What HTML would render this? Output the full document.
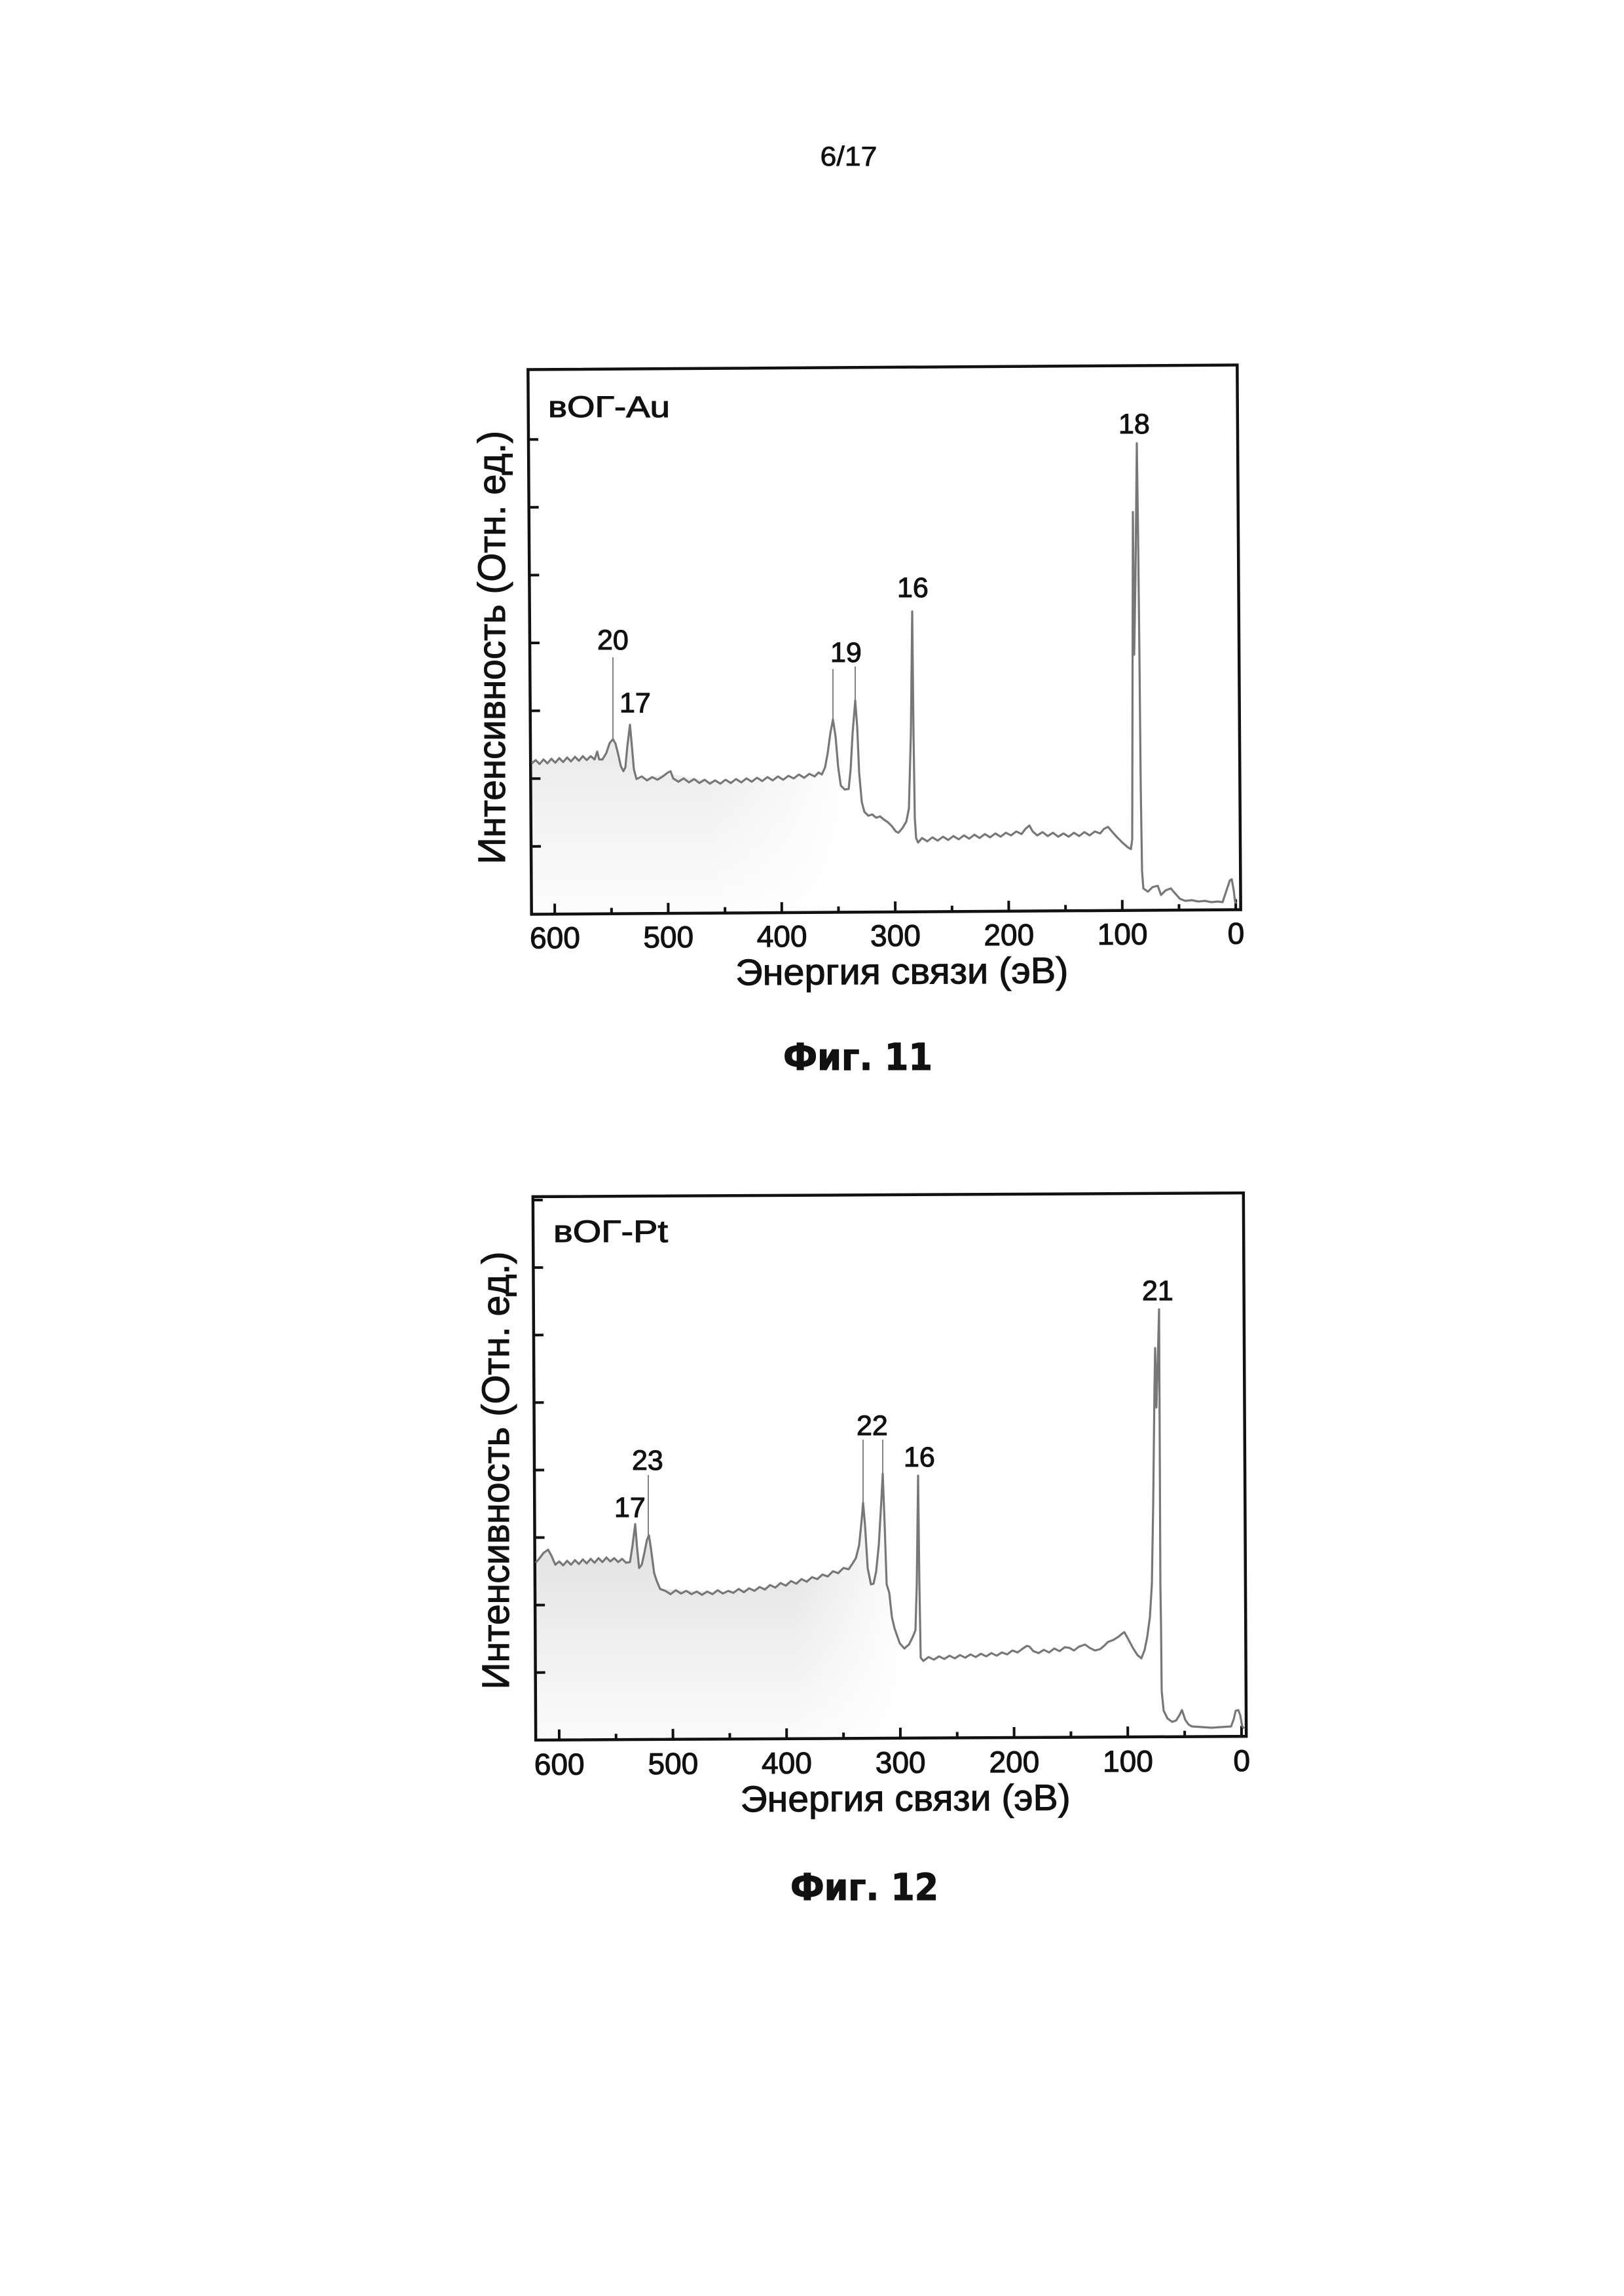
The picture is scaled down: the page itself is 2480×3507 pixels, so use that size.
<!DOCTYPE html>
<html>
<head>
<meta charset="utf-8">
<style>
html,body{margin:0;padding:0;background:#fff;}
body{width:2480px;height:3507px;overflow:hidden;}
svg{display:block;}
.t{font-family:"Liberation Sans","DejaVu Sans",sans-serif;fill:#111;stroke:#111;stroke-width:1.1;}
.b{font-family:"DejaVu Sans","Liberation Sans",sans-serif;font-weight:bold;fill:#111;stroke:#111;stroke-width:1.2;}
</style>
</head>
<body>
<svg width="2480" height="3507" viewBox="0 0 2480 3507" xmlns="http://www.w3.org/2000/svg">
<defs>
<linearGradient id="g1" gradientUnits="userSpaceOnUse" x1="0" y1="1160" x2="0" y2="1400">
<stop offset="0" stop-color="#ececec"/><stop offset="0.5" stop-color="#f5f5f5"/><stop offset="1" stop-color="#fdfdfd"/>
</linearGradient>
<linearGradient id="g2" gradientUnits="userSpaceOnUse" x1="0" y1="2380" x2="0" y2="2655">
<stop offset="0" stop-color="#e4e4e4"/><stop offset="0.4" stop-color="#eeeeee"/><stop offset="1" stop-color="#fbfbfb"/>
</linearGradient>
<linearGradient id="h1" gradientUnits="userSpaceOnUse" x1="812" y1="0" x2="1300" y2="0">
<stop offset="0" stop-color="#fff"/><stop offset="0.55" stop-color="#fff"/><stop offset="1" stop-color="#000"/>
</linearGradient>
<linearGradient id="h2" gradientUnits="userSpaceOnUse" x1="818" y1="0" x2="1385" y2="0">
<stop offset="0" stop-color="#fff"/><stop offset="0.7" stop-color="#fff"/><stop offset="1" stop-color="#000"/>
</linearGradient>
<mask id="m1" maskUnits="userSpaceOnUse" x="0" y="0" width="2480" height="3507">
<rect x="0" y="0" width="2480" height="3507" fill="url(#h1)"/>
</mask>
<mask id="m2" maskUnits="userSpaceOnUse" x="0" y="0" width="2480" height="3507">
<rect x="0" y="0" width="2480" height="3507" fill="url(#h2)"/>
</mask>
</defs>

<!-- header -->
<text class="t" x="1296" y="253" font-size="42" text-anchor="middle" textLength="87" lengthAdjust="spacingAndGlyphs" style="stroke-width:0.8">6/17</text>

<!-- ================= CHART 1 ================= -->
<polygon fill="url(#g1)" mask="url(#m1)" points="812,1166 818,1161 824,1167 830,1160 836,1166 842,1159 848,1165 854,1158 860,1164 866,1157 872,1163 878,1156 884,1162 890,1155 896,1161 902,1155 908,1160 912,1148 915,1160 920,1160 926,1150 931,1135 936,1129 940,1136 944,1152 948,1170 952,1178 955,1172 958,1140 962,1107 965,1140 968,1175 972,1190 1020,1182 1100,1195 1180,1192 1250,1182 1264,1150 1272,1099 1280,1172 1290,1206 1300,1395 812,1396"/>

<g transform="rotate(-0.37 1350 977)">
<rect x="809" y="561" width="1083" height="832" fill="none" stroke="#111" stroke-width="4.5"/>
<g stroke="#111" stroke-width="4">
<line x1="809" y1="1289.4" x2="824" y2="1289.4"/>
<line x1="809" y1="1185.8" x2="824" y2="1185.8"/>
<line x1="809" y1="1082.2" x2="824" y2="1082.2"/>
<line x1="809" y1="978.6" x2="824" y2="978.6"/>
<line x1="809" y1="875" x2="824" y2="875"/>
<line x1="809" y1="771.4" x2="824" y2="771.4"/>
<line x1="809" y1="667.8" x2="824" y2="667.8"/>
<line x1="844.5" y1="1393" x2="844.5" y2="1377"/>
<line x1="1017.8" y1="1393" x2="1017.8" y2="1377"/>
<line x1="1191.2" y1="1393" x2="1191.2" y2="1377"/>
<line x1="1364.5" y1="1393" x2="1364.5" y2="1377"/>
<line x1="1537.8" y1="1393" x2="1537.8" y2="1377"/>
<line x1="1711.2" y1="1393" x2="1711.2" y2="1377"/>
<line x1="1884.5" y1="1393" x2="1884.5" y2="1377"/>
<line x1="931.2" y1="1393" x2="931.2" y2="1384"/>
<line x1="1104.5" y1="1393" x2="1104.5" y2="1384"/>
<line x1="1277.8" y1="1393" x2="1277.8" y2="1384"/>
<line x1="1451.2" y1="1393" x2="1451.2" y2="1384"/>
<line x1="1624.5" y1="1393" x2="1624.5" y2="1384"/>
<line x1="1797.8" y1="1393" x2="1797.8" y2="1384"/>
</g>
<g class="t" font-size="46" text-anchor="middle">
<text x="844.5" y="1445">600</text>
<text x="1017.8" y="1445">500</text>
<text x="1191.2" y="1445">400</text>
<text x="1364.5" y="1445">300</text>
<text x="1537.8" y="1445">200</text>
<text x="1711.2" y="1445">100</text>
<text x="1884.5" y="1445">0</text>
</g>
<text class="t" x="1374" y="1503" font-size="56" text-anchor="middle" textLength="508" lengthAdjust="spacingAndGlyphs">Энергия связи (эВ)</text>
</g>

<text class="t" transform="translate(771 989) rotate(-90)" x="0" y="0" font-size="58" text-anchor="middle" textLength="662" lengthAdjust="spacingAndGlyphs">Интенсивность (Отн. ед.)</text>

<text class="t" x="837" y="637" font-size="45" textLength="186" lengthAdjust="spacingAndGlyphs">вОГ-Au</text>

<g stroke="#777" stroke-width="1.8" fill="none">
<line x1="936" y1="1004" x2="936" y2="1129"/>
<line x1="1272" y1="1022" x2="1272" y2="1099"/>
<line x1="1306" y1="1018" x2="1306" y2="1070"/>
</g>

<polyline fill="none" stroke="#777" stroke-width="3.2" stroke-linejoin="round" points="812,1166 818,1161 824,1167 830,1160 836,1166 842,1159 848,1165 854,1158 860,1164 866,1157 872,1163 878,1156 884,1162 890,1155 896,1161 902,1155 908,1160 912,1148 915,1160 920,1160 926,1150 931,1135 936,1129 940,1136 944,1152 948,1170 952,1178 955,1172 958,1140 962,1107 965,1140 968,1175 972,1190 980,1186 988,1192 996,1187 1004,1191 1012,1186 1020,1180 1024,1178 1028,1189 1036,1194 1044,1189 1052,1195 1060,1190 1068,1196 1076,1191 1084,1197 1092,1192 1100,1197 1108,1191 1116,1196 1124,1190 1132,1195 1140,1189 1148,1194 1156,1188 1164,1193 1172,1187 1180,1192 1188,1186 1196,1191 1204,1185 1212,1189 1220,1183 1228,1188 1236,1182 1244,1186 1250,1180 1255,1183 1260,1172 1264,1150 1268,1120 1272,1099 1276,1125 1280,1172 1284,1200 1290,1206 1296,1205 1299,1175 1302,1120 1306,1070 1309,1110 1312,1180 1316,1225 1320,1240 1326,1246 1332,1244 1338,1249 1344,1247 1350,1252 1356,1256 1362,1262 1368,1270 1372,1272 1378,1265 1384,1255 1388,1235 1391,1120 1393,934 1395,1120 1397,1250 1399,1280 1402,1287 1408,1280 1416,1285 1424,1279 1432,1284 1440,1278 1448,1283 1456,1277 1464,1282 1472,1276 1480,1281 1488,1275 1496,1280 1504,1274 1512,1279 1520,1273 1528,1278 1536,1272 1544,1276 1552,1270 1560,1274 1566,1266 1572,1261 1577,1270 1584,1276 1592,1271 1600,1277 1608,1272 1616,1278 1624,1273 1632,1278 1640,1272 1648,1277 1656,1271 1664,1276 1672,1270 1680,1273 1686,1266 1692,1263 1698,1270 1706,1279 1714,1287 1722,1294 1727,1297 1729,1282 1730,782 1732,1000 1734,880 1736,677 1738,820 1740,1000 1742,1200 1744,1330 1746,1357 1753,1362 1760,1355 1768,1353 1773,1367 1780,1360 1788,1357 1793,1363 1802,1373 1810,1376 1820,1375 1830,1377 1840,1376 1850,1378 1860,1377 1867,1378 1873,1360 1878,1345 1881,1343 1884,1360 1886,1377 1888,1380"/>

<g class="t" font-size="43">
<text x="912" y="992">20</text>
<text x="946" y="1088">17</text>
<text x="1268" y="1011">19</text>
<text x="1370" y="912">16</text>
<text x="1708" y="662">18</text>
</g>

<text class="b" x="1310" y="1634" font-size="56" text-anchor="middle" textLength="228" lengthAdjust="spacingAndGlyphs">Фиг. 11</text>

<!-- ================= CHART 2 ================= -->
<polygon fill="url(#g2)" mask="url(#m2)" points="818,2387 824,2380 830,2372 837,2367 842,2376 848,2390 854,2385 860,2391 866,2384 872,2390 878,2383 884,2389 890,2382 896,2388 902,2381 908,2387 914,2380 920,2386 926,2379 932,2385 938,2380 944,2386 950,2381 956,2387 962,2386 966,2360 970,2328 973,2365 976,2395 980,2390 984,2372 988,2352 991,2345 994,2365 999,2403 1003,2415 1008,2427 1100,2432 1200,2420 1260,2406 1302,2388 1312,2360 1318,2295 1325,2395 1330,2420 1338,2400 1348,2251 1354,2420 1362,2470 1374,2510 1381,2518 1390,2655 818,2657"/>

<g transform="rotate(-0.3 1360 2240)">
<rect x="816" y="1825" width="1085" height="830" fill="none" stroke="#111" stroke-width="4.5"/>
<g stroke="#111" stroke-width="4">
<line x1="816" y1="2551.9" x2="831" y2="2551.9"/>
<line x1="816" y1="2448.8" x2="831" y2="2448.8"/>
<line x1="816" y1="2345.7" x2="831" y2="2345.7"/>
<line x1="816" y1="2242.6" x2="831" y2="2242.6"/>
<line x1="816" y1="2139.5" x2="831" y2="2139.5"/>
<line x1="816" y1="2036.4" x2="831" y2="2036.4"/>
<line x1="816" y1="1933.3" x2="831" y2="1933.3"/>
<line x1="816" y1="1830.2" x2="831" y2="1830.2"/>
<line x1="851.8" y1="2655" x2="851.8" y2="2639"/>
<line x1="1025.5" y1="2655" x2="1025.5" y2="2639"/>
<line x1="1199.1" y1="2655" x2="1199.1" y2="2639"/>
<line x1="1372.8" y1="2655" x2="1372.8" y2="2639"/>
<line x1="1546.5" y1="2655" x2="1546.5" y2="2639"/>
<line x1="1720.1" y1="2655" x2="1720.1" y2="2639"/>
<line x1="1893.8" y1="2655" x2="1893.8" y2="2639"/>
<line x1="938.6" y1="2655" x2="938.6" y2="2646"/>
<line x1="1112.3" y1="2655" x2="1112.3" y2="2646"/>
<line x1="1286" y1="2655" x2="1286" y2="2646"/>
<line x1="1459.6" y1="2655" x2="1459.6" y2="2646"/>
<line x1="1633.3" y1="2655" x2="1633.3" y2="2646"/>
<line x1="1807" y1="2655" x2="1807" y2="2646"/>
</g>
<g class="t" font-size="46" text-anchor="middle">
<text x="851.8" y="2708">600</text>
<text x="1025.5" y="2708">500</text>
<text x="1199.1" y="2708">400</text>
<text x="1372.8" y="2708">300</text>
<text x="1546.5" y="2708">200</text>
<text x="1720.1" y="2708">100</text>
<text x="1893.8" y="2708">0</text>
</g>
<text class="t" x="1380" y="2766" font-size="56" text-anchor="middle" textLength="504" lengthAdjust="spacingAndGlyphs">Энергия связи (эВ)</text>
</g>

<text class="t" transform="translate(777 2246) rotate(-90)" x="0" y="0" font-size="58" text-anchor="middle" textLength="669" lengthAdjust="spacingAndGlyphs">Интенсивность (Отн. ед.)</text>

<text class="t" x="845" y="1897" font-size="47" textLength="175" lengthAdjust="spacingAndGlyphs">вОГ-Pt</text>

<g stroke="#777" stroke-width="1.8" fill="none">
<line x1="990" y1="2253" x2="990" y2="2346"/>
<line x1="1318" y1="2199" x2="1318" y2="2295"/>
<line x1="1348" y1="2199" x2="1348" y2="2251"/>
</g>

<polyline fill="none" stroke="#777" stroke-width="3.2" stroke-linejoin="round" points="818,2387 824,2380 830,2372 837,2367 842,2376 848,2390 854,2385 860,2391 866,2384 872,2390 878,2383 884,2389 890,2382 896,2388 902,2381 908,2387 914,2380 920,2386 926,2379 932,2385 938,2380 944,2386 950,2381 956,2387 962,2386 966,2360 970,2328 973,2365 976,2395 980,2390 984,2372 988,2352 991,2345 994,2365 999,2403 1003,2415 1008,2427 1016,2430 1024,2435 1032,2429 1040,2434 1048,2430 1056,2435 1064,2431 1072,2436 1080,2431 1088,2435 1096,2429 1104,2434 1112,2430 1120,2433 1128,2427 1136,2432 1144,2426 1152,2430 1160,2424 1168,2428 1176,2421 1184,2425 1192,2418 1200,2422 1208,2415 1216,2419 1224,2412 1232,2416 1240,2409 1248,2412 1256,2405 1264,2408 1272,2400 1280,2403 1288,2395 1296,2397 1302,2388 1307,2380 1312,2360 1316,2320 1318,2295 1321,2330 1325,2395 1330,2420 1334,2419 1338,2400 1342,2360 1346,2290 1348,2251 1351,2330 1354,2420 1358,2433 1362,2470 1366,2487 1374,2510 1381,2518 1388,2512 1394,2500 1398,2490 1400,2420 1402,2254 1404,2420 1406,2532 1410,2537 1418,2531 1426,2535 1434,2530 1442,2534 1450,2529 1458,2533 1466,2528 1474,2532 1482,2527 1490,2531 1498,2526 1506,2530 1514,2525 1522,2529 1530,2524 1538,2527 1546,2521 1554,2524 1562,2518 1568,2514 1572,2515 1578,2522 1586,2525 1594,2520 1602,2524 1610,2518 1618,2522 1626,2516 1633,2517 1640,2521 1648,2515 1657,2512 1664,2517 1672,2521 1680,2519 1686,2514 1692,2508 1700,2505 1708,2500 1714,2495 1717,2493 1722,2502 1730,2517 1737,2528 1743,2533 1748,2520 1752,2500 1756,2470 1759,2420 1761,2300 1763,2120 1764,2059 1766,2150 1768,2080 1770,2000 1771,2200 1772,2420 1773,2483 1774,2583 1777,2613 1783,2625 1790,2630 1796,2628 1801,2620 1805,2612 1810,2627 1815,2634 1820,2637 1835,2638 1850,2639 1865,2638 1880,2637 1884,2626 1887,2613 1891,2612 1894,2620 1897,2637 1900,2640"/>

<g class="t" font-size="43">
<text x="938" y="2317">17</text>
<text x="965" y="2245">23</text>
<text x="1308" y="2192">22</text>
<text x="1380" y="2240">16</text>
<text x="1744" y="1986">21</text>
</g>

<text class="b" x="1320" y="2902" font-size="56" text-anchor="middle" textLength="226" lengthAdjust="spacingAndGlyphs">Фиг. 12</text>
</svg>
</body>
</html>
